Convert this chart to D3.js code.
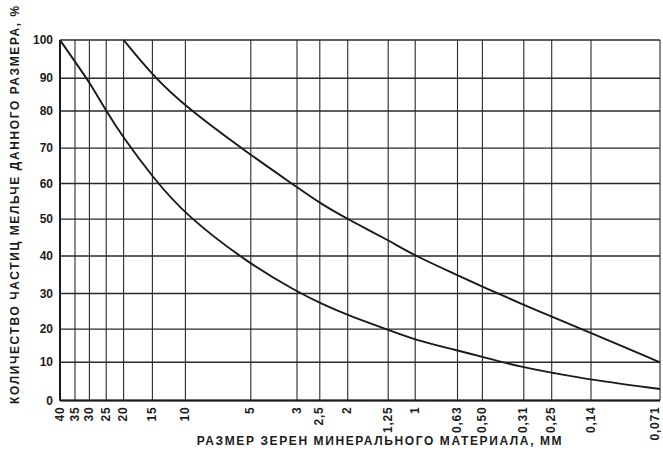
<!DOCTYPE html>
<html>
<head>
<meta charset="utf-8">
<script src="https://cdn.jsdelivr.net/npm/d3@7"></script>
<style>
  body { margin: 0; background: #fff; }
  text { font-family: "Liberation Sans", Arial, sans-serif; font-weight: bold; fill: #1c1c1c; }
  .grid { stroke: #2a2a2a; stroke-width: 1.1; }
  .hgrid { stroke: #2a2a2a; stroke-width: 1.4; }
  .curve { fill: none; stroke: #1a1a1a; stroke-width: 1.9; }
</style>
</head>
<body>
<svg width="663" height="461"></svg>
<script>
// grain sizes, mm (sieve ticks along the x axis)
var sizes = [40, 35, 30, 25, 20, 15, 10, 5, 3, 2.5, 2, 1.25, 1, 0.63, 0.50, 0.31, 0.25, 0.14, 0.071];
var sizeLabels = ["40", "35", "30", "25", "20", "15", "10", "5", "3", "2,5", "2", "1,25", "1", "0,63", "0,50", "0,31", "0,25", "0,14", "0,071"];
var yTicks = [100, 90, 80, 70, 60, 50, 40, 30, 20, 10, 0];

// % passing, lower curve (starts at 40 mm)
var lowerSizes = [40, 35, 30, 25, 20, 15, 10, 5, 3, 2.5, 2, 1.25, 1, 0.63, 0.50, 0.31, 0.25, 0.14, 0.071];
var lowerPass = [100, 94.3, 88.8, 80, 72.7, 61.9, 51.1, 37.6, 30.5, 27.3, 23.9, 19.8, 16.7, 13.6, 11.6, 8.6, 7.3, 5.4, 3];
// % passing, upper curve (starts at 20 mm)
var upperSizes = [20, 15, 10, 5, 3, 2.5, 2, 1.25, 1, 0.63, 0.50, 0.31, 0.25, 0.14, 0.071];
var upperPass = [100, 90.8, 81.3, 68, 59, 54.5, 50, 44.3, 40, 34.9, 31.8, 26.8, 23.5, 18.8, 10];

var svg = d3.select("svg"),
    pLeft = 60, pRight = 660, pTop = 40, pBottom = 400.5,
    w = pRight - pLeft, h = pBottom - pTop;

// the sheet is hand-ruled: roughly logarithmic sizes, slightly uneven percent rows
var xFrac = [0, 0.025, 0.049, 0.077, 0.106, 0.154, 0.209, 0.318, 0.395, 0.433, 0.4795, 0.547, 0.592, 0.6625, 0.704, 0.773, 0.8195, 0.885, 1];
var yFrac = [0, 0.106, 0.197, 0.3, 0.398, 0.497, 0.599, 0.703, 0.802, 0.894, 1];
var x = d3.scaleLog()
    .domain(sizes)
    .range(xFrac.map(function(f) { return pLeft + f * w; }));
var y = d3.scaleLinear()
    .domain(yTicks)
    .range(yFrac.map(function(f) { return pTop + f * h; }));

// vertical grid
svg.append("g").selectAll("line")
    .data(sizes)
    .enter().append("line")
    .attr("class", "grid")
    .attr("x1", function(d) { return x(d); })
    .attr("x2", function(d) { return x(d); })
    .attr("y1", pTop)
    .attr("y2", pBottom);

// horizontal grid
svg.append("g").selectAll("line")
    .data(yTicks)
    .enter().append("line")
    .attr("class", "hgrid")
    .attr("x1", pLeft)
    .attr("x2", pRight)
    .attr("y1", function(d) { return y(d); })
    .attr("y2", function(d) { return y(d); });

// axis lines
svg.append("line").attr("x1", pLeft).attr("x2", pRight).attr("y1", pBottom).attr("y2", pBottom)
    .attr("stroke", "#1a1a1a").attr("stroke-width", 2.2);
svg.append("line").attr("x1", pLeft).attr("x2", pLeft).attr("y1", pTop).attr("y2", pBottom)
    .attr("stroke", "#1a1a1a").attr("stroke-width", 2);

// y tick labels
svg.append("g").selectAll("text")
    .data(yTicks)
    .enter().append("text")
    .attr("x", pLeft - 7)
    .attr("y", function(d) { return y(d); })
    .attr("dy", "0.35em")
    .attr("text-anchor", "end")
    .style("font-size", "12px")
    .text(function(d) { return d; });

// x tick labels, rotated (last one kept inside the page)
svg.append("g").selectAll("text")
    .data(sizes)
    .enter().append("text")
    .attr("transform", function(d) {
        return "translate(" + Math.min(x(d) + 3.5, 659) + "," + (pBottom + 6) + ") rotate(-90)";
    })
    .attr("text-anchor", "end")
    .style("font-size", "12px")
    .style("letter-spacing", "0.8px")
    .text(function(d, i) { return sizeLabels[i]; });

// curves
var line = d3.line()
    .x(function(d) { return x(d[0]); })
    .y(function(d) { return y(d[1]); })
    .curve(d3.curveBasis);

svg.append("path")
    .attr("class", "curve")
    .attr("d", line(d3.zip(lowerSizes, lowerPass)));
svg.append("path")
    .attr("class", "curve")
    .attr("d", line(d3.zip(upperSizes, upperPass)));

// axis titles
svg.append("text")
    .attr("x", 380)
    .attr("y", 445)
    .attr("text-anchor", "middle")
    .style("font-size", "12px")
    .style("letter-spacing", "1.6px")
    .text("РАЗМЕР ЗЕРЕН МИНЕРАЛЬНОГО МАТЕРИАЛА, ММ");

svg.append("text")
    .attr("transform", "translate(19,204) rotate(-90)")
    .attr("text-anchor", "middle")
    .style("font-size", "12px")
    .style("letter-spacing", "1.6px")
    .text("КОЛИЧЕСТВО ЧАСТИЦ МЕЛЬЧЕ ДАННОГО РАЗМЕРА, %");
</script>
</body>
</html>
